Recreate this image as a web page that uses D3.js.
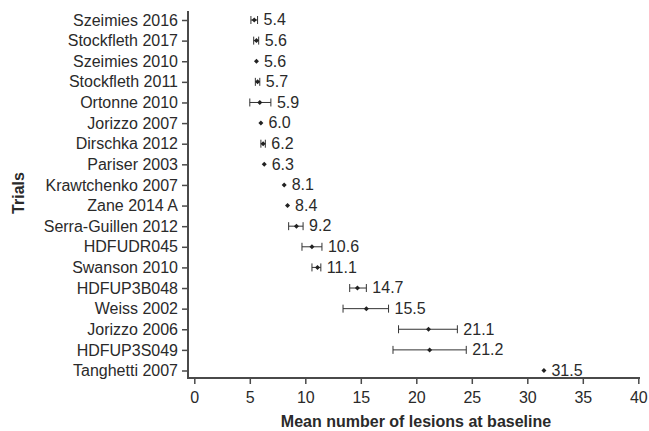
<!DOCTYPE html>
<html>
<head>
<meta charset="utf-8">
<script src="https://cdn.jsdelivr.net/npm/d3@7"></script>
<style>
  body { margin: 0; background: #fff; }
  svg { font-family: "Liberation Sans", Arial, sans-serif; }
</style>
</head>
<body>
<svg id="chart" width="649" height="431"></svg>
<script>
const trials = [
  "Szeimies 2016", "Stockfleth 2017", "Szeimies 2010", "Stockfleth 2011",
  "Ortonne 2010", "Jorizzo 2007", "Dirschka 2012", "Pariser 2003",
  "Krawtchenko 2007", "Zane 2014 A", "Serra-Guillen 2012", "HDFUDR045",
  "Swanson 2010", "HDFUP3B048", "Weiss 2002", "Jorizzo 2006",
  "HDFUP3S049", "Tanghetti 2007"
];
const means = [5.4, 5.6, 5.6, 5.7, 5.9, 6.0, 6.2, 6.3, 8.1, 8.4, 9.2, 10.6, 11.1, 14.7, 15.5, 21.1, 21.2, 31.5];
// lower / upper bounds of the error bars (null = no bar shown)
const lower = [5.1, 5.35, null, 5.5, 5.0, null, 6.0, null, null, null, 8.5, 9.7, 10.6, 14.0, 13.4, 18.4, 17.9, null];
const upper = [5.7, 5.8, null, 5.9, 6.9, null, 6.4, null, null, null, 9.8, 11.5, 11.4, 15.5, 17.5, 23.7, 24.5, null];
const xTicks = [0, 5, 10, 15, 20, 25, 30, 35, 40];

const data = trials.map((t, i) => ({ trial: t, mean: means[i], lo: lower[i], hi: upper[i] }));

const svg = d3.select("#chart");
const axisColor = "#4a4a4a";
const textColor = "#2a2a2a";

const x = d3.scaleLinear().domain([0, 40]).range([194.3, 638.3]);
const y = d3.scalePoint().domain(trials).range([20, 370.5]);

// x axis
const xAxis = svg.append("g")
  .attr("transform", "translate(0,378)")
  .call(d3.axisBottom(x).tickValues(xTicks).tickSize(6).tickPadding(8).tickSizeOuter(0));
xAxis.select(".domain").remove();
xAxis.append("line")
  .attr("x1", 187).attr("x2", 640).attr("y1", 0).attr("y2", 0)
  .attr("stroke", axisColor).attr("stroke-width", 2);
xAxis.selectAll(".tick line").attr("stroke", axisColor).attr("stroke-width", 1.5);
xAxis.selectAll(".tick text").attr("fill", textColor).style("font-size", "16px");

// y axis
const yAxis = svg.append("g")
  .attr("transform", "translate(188,0)")
  .call(d3.axisLeft(y).tickSize(6).tickPadding(4).tickSizeOuter(0));
yAxis.select(".domain").remove();
yAxis.append("line")
  .attr("x1", 0).attr("x2", 0).attr("y1", 11).attr("y2", 379)
  .attr("stroke", axisColor).attr("stroke-width", 2);
yAxis.selectAll(".tick line").attr("stroke", axisColor).attr("stroke-width", 1.5);
yAxis.selectAll(".tick text").attr("fill", textColor).style("font-size", "16px");

// error bars
const bars = svg.append("g").selectAll("g")
  .data(data.filter(d => d.lo !== null))
  .join("g")
  .attr("stroke", "#333")
  .attr("stroke-width", 1);
bars.append("line")
  .attr("x1", d => x(d.lo)).attr("x2", d => x(d.hi))
  .attr("y1", d => y(d.trial)).attr("y2", d => y(d.trial));
bars.append("line")
  .attr("x1", d => x(d.lo)).attr("x2", d => x(d.lo))
  .attr("y1", d => y(d.trial) - 4).attr("y2", d => y(d.trial) + 4);
bars.append("line")
  .attr("x1", d => x(d.hi)).attr("x2", d => x(d.hi))
  .attr("y1", d => y(d.trial) - 4).attr("y2", d => y(d.trial) + 4);

// points (small diamonds)
const diamond = d3.symbol().type(d3.symbolDiamond2).size(16);
svg.append("g").selectAll("path")
  .data(data)
  .join("path")
  .attr("transform", d => `translate(${x(d.mean)},${y(d.trial)})`)
  .attr("d", diamond)
  .attr("fill", "#222");

// value labels
svg.append("g").selectAll("text")
  .data(data)
  .join("text")
  .attr("x", d => d.hi !== null ? x(d.hi) + 6 : x(d.mean) + 7.5)
  .attr("y", d => y(d.trial))
  .attr("dy", "0.33em")
  .attr("fill", textColor)
  .style("font-size", "16px")
  .text(d => d.mean.toFixed(1));

// axis titles
svg.append("text")
  .attr("x", 416)
  .attr("y", 427)
  .attr("text-anchor", "middle")
  .attr("fill", textColor)
  .style("font-size", "16px")
  .style("font-weight", "bold")
  .text("Mean number of lesions at baseline");

svg.append("text")
  .attr("transform", "translate(24,193) rotate(-90)")
  .attr("text-anchor", "middle")
  .attr("fill", textColor)
  .style("font-size", "16px")
  .style("font-weight", "bold")
  .text("Trials");
</script>
</body>
</html>
